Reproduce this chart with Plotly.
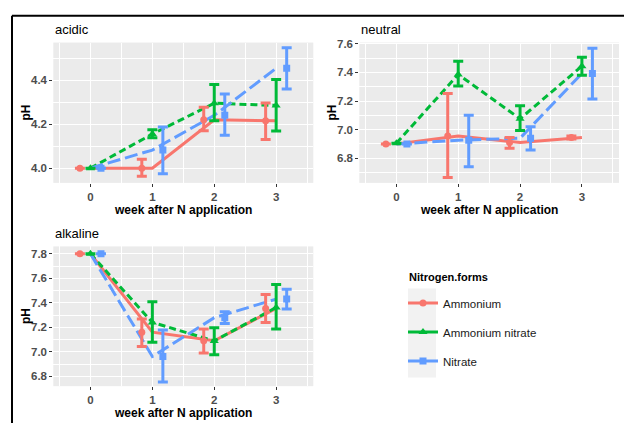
import plotly.graph_objects as go

# ---------------- data ----------------
weeks = [0, 1, 2, 3]
forms = ["Ammonium", "Ammonium nitrate", "Nitrate"]
panel_names = ["acidic", "neutral", "alkaline"]

acidic_ammonium_mean = [4.00, 4.00, 4.22, 4.215]
acidic_ammonium_low = [4.00, 3.963, 4.17, 4.13]
acidic_ammonium_high = [4.00, 4.04, 4.277, 4.296]
acidic_amnit_mean = [4.00, 4.155, 4.295, 4.285]
acidic_amnit_low = [4.00, 4.138, 4.216, 4.169]
acidic_amnit_high = [4.00, 4.175, 4.38, 4.403]
acidic_nitrate_mean = [4.00, 4.082, 4.24, 4.454]
acidic_nitrate_low = [4.00, 3.975, 4.15, 4.36]
acidic_nitrate_high = [4.00, 4.187, 4.337, 4.547]

neutral_ammonium_mean = [6.90, 6.955, 6.91, 6.945]
neutral_ammonium_low = [6.90, 6.665, 6.87, 6.935]
neutral_ammonium_high = [6.90, 7.253, 6.945, 6.955]
neutral_amnit_mean = [6.905, 7.386, 7.076, 7.444]
neutral_amnit_low = [6.905, 7.306, 6.995, 7.38]
neutral_amnit_high = [6.905, 7.478, 7.168, 7.506]
neutral_nitrate_mean = [6.90, 6.926, 6.94, 7.393]
neutral_nitrate_low = [6.90, 6.74, 6.857, 7.214]
neutral_nitrate_high = [6.90, 7.10, 7.02, 7.57]

alkaline_ammonium_mean = [7.80, 7.16, 7.09, 7.354]
alkaline_ammonium_low = [7.80, 7.043, 6.99, 7.24]
alkaline_ammonium_high = [7.80, 7.268, 7.186, 7.467]
alkaline_amnit_mean = [7.80, 7.24, 7.089, 7.362]
alkaline_amnit_low = [7.80, 7.078, 6.976, 7.186]
alkaline_amnit_high = [7.80, 7.408, 7.197, 7.549]
alkaline_nitrate_mean = [7.80, 6.962, 7.278, 7.43]
alkaline_nitrate_low = [7.80, 6.754, 7.232, 7.35]
alkaline_nitrate_high = [7.80, 7.178, 7.327, 7.51]

y_ticks_acidic = [4.0, 4.2, 4.4]
y_ticks_neutral = [6.8, 7.0, 7.2, 7.4, 7.6]
y_ticks_alkaline = [6.8, 7.0, 7.2, 7.4, 7.6, 7.8]

# ---------------- styling ----------------
W, H = 624, 423
colors = ["#F8766D", "#00BA38", "#619CFF"]
dashes = ["solid", "7px,4px", "13px,5px"]
symbols = ["circle", "triangle-up", "square"]
msizes = [7, 8, 7]
dodge = [-0.17, 0.0, 0.17]
FONT = "Liberation Sans, Arial, Helvetica, sans-serif"


def px(x):
    return x / W


def py(y):
    return 1 - y / H


data = {
    "acidic": [
        (acidic_ammonium_mean, acidic_ammonium_low, acidic_ammonium_high),
        (acidic_amnit_mean, acidic_amnit_low, acidic_amnit_high),
        (acidic_nitrate_mean, acidic_nitrate_low, acidic_nitrate_high),
    ],
    "neutral": [
        (neutral_ammonium_mean, neutral_ammonium_low, neutral_ammonium_high),
        (neutral_amnit_mean, neutral_amnit_low, neutral_amnit_high),
        (neutral_nitrate_mean, neutral_nitrate_low, neutral_nitrate_high),
    ],
    "alkaline": [
        (alkaline_ammonium_mean, alkaline_ammonium_low, alkaline_ammonium_high),
        (alkaline_amnit_mean, alkaline_amnit_low, alkaline_amnit_high),
        (alkaline_nitrate_mean, alkaline_nitrate_low, alkaline_nitrate_high),
    ],
}

# panel geometry in pixels: (left, right, top, bottom), y range, ticks
panels = {
    "acidic": dict(ax="", box=(53.3, 313.3, 38, 180), yr=[3.933, 4.571], ticks=y_ticks_acidic),
    "neutral": dict(ax="2", box=(359.3, 619, 38, 180), yr=[6.628, 7.609], ticks=y_ticks_neutral),
    "alkaline": dict(ax="3", box=(53.3, 313.3, 244.3, 385.7), yr=[6.72, 7.86], ticks=y_ticks_alkaline),
}

fig = go.Figure()

for name in panel_names:
    p = panels[name]
    xa = "x" + p["ax"]
    ya = "y" + p["ax"]
    for i, (mean, low, high) in enumerate(data[name]):
        fig.add_trace(go.Scatter(
            x=weeks, y=mean, xaxis=xa, yaxis=ya, mode="lines",
            line=dict(color=colors[i], width=3, dash=dashes[i]),
            showlegend=False, hoverinfo="skip"))
    for i, (mean, low, high) in enumerate(data[name]):
        fig.add_trace(go.Scatter(
            x=[w + dodge[i] for w in weeks], y=mean, xaxis=xa, yaxis=ya,
            mode="markers",
            marker=dict(color=colors[i], symbol=symbols[i], size=msizes[i]),
            error_y=dict(type="data", symmetric=False,
                         array=[h - m for h, m in zip(high, mean)],
                         arrayminus=[m - l for m, l in zip(mean, low)],
                         color=colors[i], thickness=3, width=5),
            showlegend=False))

# legend entries
for i, f in enumerate(forms):
    fig.add_trace(go.Scatter(
        x=[None], y=[None], mode="lines+markers", name=f, legendgroup=f,
        line=dict(color=colors[i], width=3),
        marker=dict(color=colors[i], symbol=symbols[i], size=msizes[i])))

axis_common = dict(
    showline=False, zeroline=False, showgrid=True, gridcolor="white", gridwidth=1.2,
    ticks="outside", ticklen=3, tickcolor="#333333", tickwidth=1,
    tickfont=dict(family=FONT, size=11.5, color="#4D4D4D", weight="bold"),
)

layout_axes = {}
for name in panel_names:
    p = panels[name]
    l, r, t, b = p["box"]
    k = p["ax"]
    layout_axes["xaxis" + k] = dict(
        axis_common, domain=[px(l), px(r)], range=[-0.6, 3.6],
        anchor="y" + k, tickvals=weeks, ticktext=[str(w) for w in weeks],
        minor=dict(tickvals=[-0.5, 0.5, 1.5, 2.5, 3.5], showgrid=True,
                   gridcolor="white", gridwidth=0.6, ticks=""))
    minor_vals = [round(v + 0.1, 2) for v in p["ticks"]] + [round(p["ticks"][0] - 0.1, 2)]
    layout_axes["yaxis" + k] = dict(
        axis_common, domain=[py(b), py(t)], range=p["yr"],
        anchor="x" + k, tickvals=p["ticks"], ticktext=["%.1f" % v for v in p["ticks"]],
        minor=dict(tickvals=minor_vals, showgrid=True, gridcolor="white",
                   gridwidth=0.6, ticks=""))

annotations = []
title_font = dict(family=FONT, size=13, color="black")
axis_title_font = dict(family=FONT, size=12, color="black", weight="bold")
for name in panel_names:
    l, r, t, b = panels[name]["box"]
    annotations.append(dict(text=name, x=px(l), y=py(t - 13), xref="paper", yref="paper",
                            xanchor="left", yanchor="middle", showarrow=False, font=title_font))
    annotations.append(dict(text="week after N application", x=px((l + r) / 2), y=py(b + 27),
                            xref="paper", yref="paper", xanchor="center", yanchor="middle",
                            showarrow=False, font=axis_title_font))
    annotations.append(dict(text="pH", x=px(l - 27.5), y=py((t + b) / 2), xref="paper",
                            yref="paper", xanchor="center", yanchor="middle", textangle=-90,
                            showarrow=False, font=axis_title_font))
annotations.append(dict(text="Nitrogen.forms", x=px(407), y=py(275), xref="paper", yref="paper",
                        xanchor="left", yanchor="middle", showarrow=False,
                        font=dict(family=FONT, size=11, color="black", weight="bold")))

shapes = [
    dict(type="line", xref="paper", yref="paper", x0=px(12), x1=px(624), y0=py(11), y1=py(11),
         line=dict(color="black", width=2)),
    dict(type="line", xref="paper", yref="paper", x0=px(12), x1=px(12), y0=py(11), y1=py(423),
         line=dict(color="black", width=2)),
    dict(type="rect", xref="paper", yref="paper", x0=px(408), x1=px(436), y0=py(377), y1=py(287),
         fillcolor="#F2F2F2", line=dict(width=0), layer="below"),
]

fig.update_layout(
    width=W, height=H, margin=dict(l=0, r=0, t=0, b=0),
    paper_bgcolor="white", plot_bgcolor="#EBEBEB",
    font=dict(family=FONT),
    showlegend=True,
    legend=dict(x=px(403), xanchor="left", y=py(287), yanchor="top",
                bgcolor="rgba(0,0,0,0)", tracegroupgap=10,
                font=dict(family=FONT, size=11.5, color="#1A1A1A")),
    annotations=annotations, shapes=shapes,
    **layout_axes,
)

fig.write_html(
    "out.html",
    config={"displayModeBar": False},
    post_script="document.body.style.margin='0px';document.body.style.padding='0px';"
                "document.body.style.overflow='hidden';",
)
